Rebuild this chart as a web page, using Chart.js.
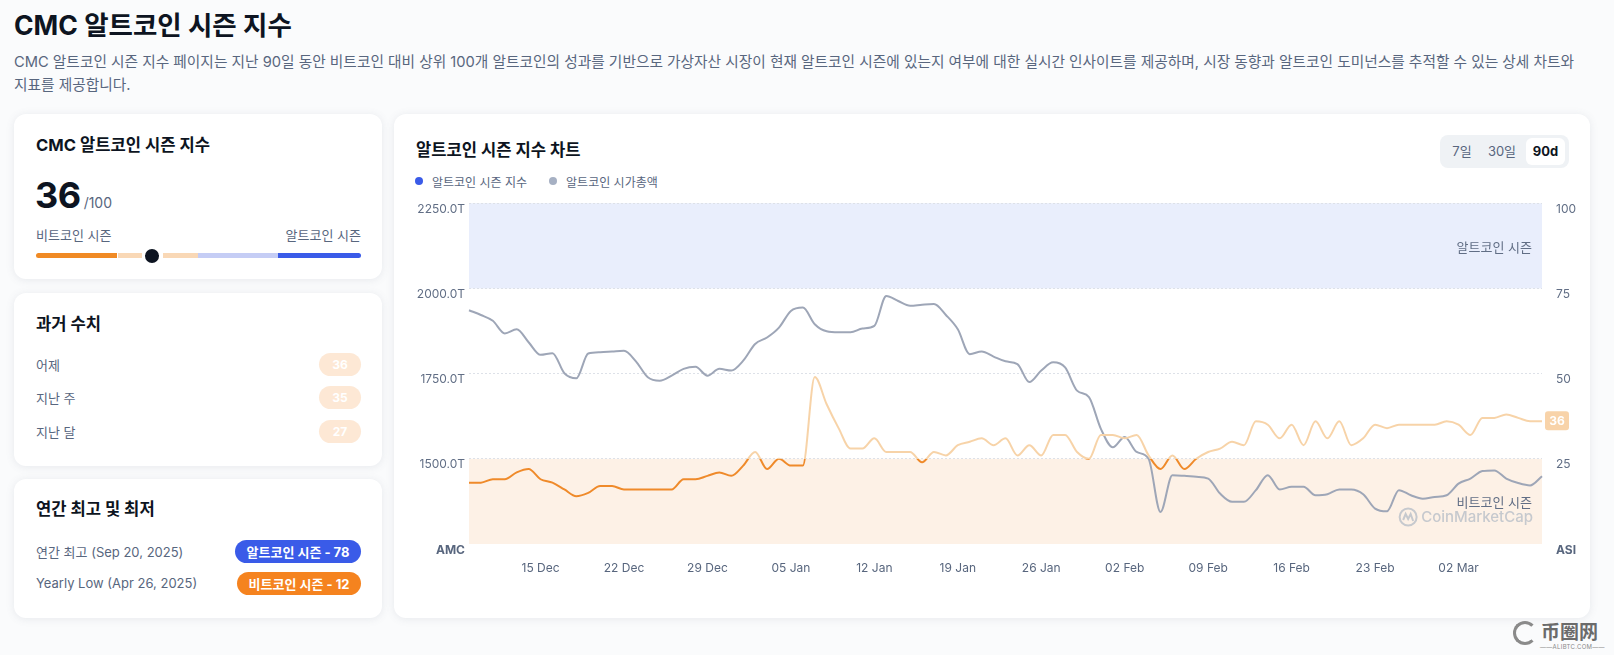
<!DOCTYPE html>
<html lang="ko">
<head>
<meta charset="utf-8">
<title>CMC 알트코인 시즌 지수</title>
<script src="https://cdn.jsdelivr.net/npm/chart.js@4.4.1/dist/chart.umd.min.js"></script>
<style>
  * { box-sizing: border-box; }
  body {
    margin: 0; width: 1614px; height: 655px; overflow: hidden; position: relative;
    background: #fafbfc; color: #0d1421;
    font-family: Inter, "Noto Sans CJK KR", sans-serif;
  }
  h1 { position: absolute; left: 14px; top: 9px; margin: 0; font-size: 26.5px; line-height: 32px; font-weight: 700; }
  .desc { position: absolute; left: 14px; top: 51px; font-size: 14.7px; line-height: 23px; color: #58667e; white-space: nowrap; }
  .card { position: absolute; background: #fff; border-radius: 12px; box-shadow: 0 1px 8px rgba(88, 102, 126, 0.12); }
  .card .t { position: absolute; left: 22px; font-size: 16.6px; line-height: 22px; font-weight: 700; }
  .row { position: absolute; left: 22px; right: 21px; height: 24px; display: flex; justify-content: space-between; align-items: center; font-size: 13px; color: #58667e; }
  .pill { height: 23px; border-radius: 12px; color: #fff; font-weight: 700; font-size: 13px; display: flex; align-items: center; justify-content: center; }
  .soft { width: 42px; background: #fde8d5; font-size: 12px; }
  .bar { position: absolute; top: 139px; height: 5px; }
  .legend { position: absolute; top: 58px; left: 21px; font-size: 12px; color: #58667e; display: flex; align-items: center; height: 18px; }
  .legend i { display: inline-block; width: 8px; height: 8px; border-radius: 50%; margin-right: 9px; }
  .seg { position: absolute; left: 1046px; top: 21px; width: 129px; height: 33px; background: #eff2f5; border-radius: 8px; font-size: 13px; color: #58667e; }
  .seg span { position: absolute; top: 3px; height: 27px; line-height: 27px; text-align: center; }
  #wrap { position: absolute; left: 400px; top: 190px; width: 1185px; height: 392px; }
</style>
</head>
<body>
<h1>CMC 알트코인 시즌 지수</h1>
<div class="desc">CMC 알트코인 시즌 지수 페이지는 지난 90일 동안 비트코인 대비 상위 100개 알트코인의 성과를 기반으로 가상자산 시장이 현재 알트코인 시즌에 있는지 여부에 대한 실시간 인사이트를 제공하며, 시장 동향과 알트코인 도미넌스를 추적할 수 있는 상세 차트와<br>지표를 제공합니다.</div>

<div class="card" style="left:14px;top:114px;width:368px;height:165px;">
  <div class="t" style="top:20px;">CMC 알트코인 시즌 지수</div>
  <div style="position:absolute;left:21px;top:61px;line-height:40px;white-space:nowrap;">
    <span style="font-size:36px;font-weight:700;letter-spacing:-0.5px;">36</span><span style="font-size:14px;color:#58667e;margin-left:3px;">/100</span>
  </div>
  <div class="row" style="top:108px;"><span>비트코인 시즌</span><span>알트코인 시즌</span></div>
  <div class="bar" style="left:22px;width:81px;background:#f08a24;border-radius:3px 0 0 3px;"></div>
  <div class="bar" style="left:104px;width:24px;background:#f9d8b6;"></div>
  <div class="bar" style="left:149px;width:35px;background:#f9d8b6;"></div>
  <div class="bar" style="left:184px;width:80px;background:#c5cdf5;"></div>
  <div class="bar" style="left:264px;width:83px;background:#3a5be8;border-radius:0 3px 3px 0;"></div>
  <div style="position:absolute;left:131px;top:135px;width:14px;height:14px;border-radius:50%;background:#0d1421;"></div>
</div>

<div class="card" style="left:14px;top:293px;width:368px;height:173px;">
  <div class="t" style="top:20px;">과거 수치</div>
  <div class="row" style="top:59px;"><span>어제</span><span class="pill soft">36</span></div>
  <div class="row" style="top:92px;"><span>지난 주</span><span class="pill soft">35</span></div>
  <div class="row" style="top:126px;"><span>지난 달</span><span class="pill soft">27</span></div>
</div>

<div class="card" style="left:14px;top:479px;width:368px;height:139px;">
  <div class="t" style="top:19px;">연간 최고 및 최저</div>
  <div class="row" style="top:60px;"><span>연간 최고 (Sep 20, 2025)</span><span class="pill" style="width:126px;background:#3a5be8;">알트코인 시즌 - 78</span></div>
  <div class="row" style="top:92px;"><span>Yearly Low (Apr 26, 2025)</span><span class="pill" style="width:124px;background:#f5831f;">비트코인 시즌 - 12</span></div>
</div>

<div class="card" style="left:394px;top:114px;width:1196px;height:504px;">
  <div class="t" style="top:25px;">알트코인 시즌 지수 차트</div>
  <div class="legend">
    <i style="background:#3a5be8;"></i><span>알트코인 시즌 지수</span>
    <i style="background:#a6b0c3;margin-left:22px;"></i><span>알트코인 시가총액</span>
  </div>
  <div class="seg">
    <span style="left:4px;width:36px;">7일</span>
    <span style="left:42px;width:40px;">30일</span>
    <span style="left:86px;width:39px;background:#fff;border-radius:6px;color:#0d1421;font-weight:700;">90d</span>
  </div>
</div>

<div id="wrap"><canvas id="altChart" width="1185" height="392"></canvas></div>

<div style="position:absolute;left:1513px;top:621px;width:24px;height:24px;border-radius:50%;border:3px solid #8a8a8a;border-right-color:transparent;"></div>
<div style="position:absolute;left:1541px;top:617px;font-family:'Noto Sans CJK SC';font-size:19px;font-weight:700;color:#6b6b6b;">币圈网</div>
<div style="position:absolute;left:1540px;top:643px;font-size:6px;color:#8a8a8a;letter-spacing:0.3px;">——ALIBTC.COM——</div>

<script>
// x tick labels shown on the axis
const tickLabels = ['15 Dec', '22 Dec', '29 Dec', '05 Jan', '12 Jan', '19 Jan', '26 Jan',
  '02 Feb', '09 Feb', '16 Feb', '23 Feb', '02 Mar'];

// altcoin market cap (T), one value per day from 09 Dec to 09 Mar
const altMarketCap = [
  1936, 1922, 1905, 1868, 1880, 1842, 1805, 1810, 1751, 1736,
  1809, 1813, 1815, 1817, 1786, 1739, 1729, 1744, 1764, 1770,
  1744, 1764, 1759, 1788, 1837, 1856, 1885, 1934, 1944, 1895,
  1874, 1871, 1871, 1882, 1890, 1978, 1963, 1949, 1952, 1954,
  1922, 1880, 1807, 1815, 1800, 1786, 1778, 1725, 1759, 1783,
  1768, 1700, 1681, 1588, 1534, 1564, 1520, 1500, 1344, 1452,
  1450, 1447, 1442, 1398, 1374, 1374, 1408, 1452, 1410, 1418,
  1418, 1393, 1396, 1410, 1410, 1396, 1354, 1346, 1408, 1393,
  1383, 1388, 1393, 1427, 1442, 1464, 1466, 1442, 1429, 1422,
  1449
];

// altcoin season index (0-100), same days
const seasonIndex = [
  18, 18, 19, 19, 21, 22, 19, 18, 16, 14,
  15, 17, 17, 16, 16, 16, 16, 16, 19, 19,
  20, 21, 20, 23, 27, 22, 25, 23, 23, 49,
  41, 34, 28, 28, 31, 27, 27, 27, 24, 27,
  26, 29, 30, 31, 29, 31, 26, 29, 26, 32,
  32, 27, 25, 32, 32, 31, 32, 26, 22, 26,
  22, 25, 27, 28, 30, 29, 36, 35, 31, 35,
  29, 36, 31, 36, 29, 31, 35, 34, 35, 35,
  35, 35, 36, 35, 32, 37, 37, 38, 37, 36,
  36
];

const capTicks = [1250, 1500, 1750, 2000, 2250];
const indexTicks = [0, 25, 50, 75, 100];

// daily category labels
const monthNames = ['Jan', 'Feb', 'Mar', 'Apr', 'May', 'Jun', 'Jul', 'Aug', 'Sep', 'Oct', 'Nov', 'Dec'];
const days = [];
for (let i = 0; i < seasonIndex.length; i++) {
  const d = new Date(2025, 11, 9 + i);
  days.push(String(d.getDate()).padStart(2, '0') + ' ' + monthNames[d.getMonth()]);
}

const ORANGE = '#ef8a2a';
const PEACH = '#f7d3a8';

// orange below 25, light peach above
function indexLineColor(context) {
  const { ctx, chartArea, scales } = context.chart;
  if (!chartArea) return ORANGE;
  const y25 = scales.yIndex.getPixelForValue(25);
  const stop = (y25 - chartArea.top) / (chartArea.bottom - chartArea.top);
  const g = ctx.createLinearGradient(0, chartArea.top, 0, chartArea.bottom);
  g.addColorStop(0, PEACH);
  g.addColorStop(stop, PEACH);
  g.addColorStop(stop, ORANGE);
  g.addColorStop(1, ORANGE);
  return g;
}

const seasonBands = {
  id: 'seasonBands',
  beforeDraw(chart) {
    const { ctx, chartArea: a, scales } = chart;
    const r = scales.yIndex;
    ctx.save();
    ctx.fillStyle = '#e9eefc';
    ctx.fillRect(a.left, r.getPixelForValue(100), a.width, r.getPixelForValue(75) - r.getPixelForValue(100));
    ctx.fillStyle = '#fdf1e6';
    ctx.fillRect(a.left, r.getPixelForValue(25), a.width, r.getPixelForValue(0) - r.getPixelForValue(25));
    ctx.restore();
  },
  beforeDatasetsDraw(chart) {
    const { ctx, chartArea: a, scales } = chart;
    const r = scales.yIndex;
    ctx.save();
    ctx.font = '13px Inter, "Noto Sans CJK KR"';
    ctx.fillStyle = '#616e85';
    ctx.textAlign = 'right';
    ctx.textBaseline = 'middle';
    ctx.fillText('알트코인 시즌', a.right - 10, (r.getPixelForValue(100) + r.getPixelForValue(75)) / 2 + 2);
    ctx.fillText('비트코인 시즌', a.right - 10, a.bottom - 41);

    // CoinMarketCap watermark
    const wy = a.bottom - 27;
    ctx.font = '500 15px Inter';
    ctx.fillStyle = '#c6c9ce';
    ctx.fillText('CoinMarketCap', a.right - 9, wy);
    const lx = a.right - 9 - ctx.measureText('CoinMarketCap').width - 13;
    ctx.strokeStyle = '#c6c9ce';
    ctx.lineWidth = 2;
    ctx.beginPath();
    ctx.arc(lx, wy, 8.5, 0, Math.PI * 2);
    ctx.stroke();
    ctx.beginPath();
    ctx.moveTo(lx - 5, wy + 3);
    ctx.lineTo(lx - 2.5, wy - 3);
    ctx.lineTo(lx, wy + 2);
    ctx.lineTo(lx + 2.5, wy - 3);
    ctx.lineTo(lx + 5, wy + 4);
    ctx.stroke();
    ctx.restore();
  },
  afterDraw(chart) {
    // current value badge on the right axis
    const { ctx, chartArea: a, scales } = chart;
    const last = seasonIndex[seasonIndex.length - 1];
    const y = scales.yIndex.getPixelForValue(last);
    ctx.save();
    ctx.fillStyle = '#f8d3a9';
    ctx.beginPath();
    ctx.roundRect(a.right + 3, y - 10, 24, 19, 3);
    ctx.fill();
    ctx.fillStyle = '#fff';
    ctx.font = 'bold 12px Inter';
    ctx.textAlign = 'center';
    ctx.textBaseline = 'middle';
    ctx.fillText(String(last), a.right + 15, y);
    ctx.restore();
  }
};

const tickFont = (isEnd) => isEnd ? { family: 'Inter', size: 12, weight: 'bold' } : { family: 'Inter', size: 12 };

new Chart(document.getElementById('altChart').getContext('2d'), {
  type: 'line',
  data: {
    labels: days,
    datasets: [
      {
        label: '알트코인 시즌 지수',
        data: seasonIndex,
        yAxisID: 'yIndex',
        borderColor: indexLineColor,
        borderWidth: 2,
        pointRadius: 0,
        cubicInterpolationMode: 'monotone',
        fill: false,
      },
      {
        label: '알트코인 시가총액',
        data: altMarketCap,
        yAxisID: 'yCap',
        borderColor: '#9ea6b7',
        borderWidth: 2,
        pointRadius: 0,
        cubicInterpolationMode: 'monotone',
        fill: false,
      },
    ],
  },
  options: {
    responsive: false,
    animation: false,
    layout: { padding: { top: 12 } },
    plugins: { legend: { display: false }, tooltip: { enabled: false } },
    scales: {
      x: {
        offset: false,
        grid: { display: false },
        border: { display: false },
        ticks: {
          autoSkip: false,
          maxRotation: 0,
          padding: 9,
          color: '#58667e',
          font: { family: 'Inter', size: 12 },
          callback(value) {
            const l = this.getLabelForValue(value);
            return tickLabels.includes(l) ? l : '';
          },
        },
        afterFit(s) { s.height = 38; },
      },
      yCap: {
        position: 'left',
        min: capTicks[0],
        max: capTicks[capTicks.length - 1],
        afterBuildTicks(s) { s.ticks = capTicks.map(v => ({ value: v })); },
        grid: {
          drawTicks: false,
          color: ctx => ctx.tick && ctx.tick.value === capTicks[0] ? 'rgba(0,0,0,0)' : '#dde1e8',
        },
        border: { display: false, dash: [2, 2] },
        ticks: {
          padding: 4,
          labelOffset: 6,
          color: ctx => ctx.tick && ctx.tick.value === capTicks[0] ? '#58667e' : '#616e85',
          font: ctx => tickFont(ctx.tick && ctx.tick.value === capTicks[0]),
          callback: v => v === capTicks[0] ? 'AMC' : v.toFixed(1) + 'T',
        },
        afterFit(s) { s.width = 69; },
      },
      yIndex: {
        position: 'right',
        min: 0,
        max: 100,
        afterBuildTicks(s) { s.ticks = indexTicks.map(v => ({ value: v })); },
        grid: { display: false },
        border: { display: false },
        ticks: {
          padding: 6,
          labelOffset: 6,
          color: ctx => ctx.tick && ctx.tick.value === 0 ? '#58667e' : '#616e85',
          font: ctx => tickFont(ctx.tick && ctx.tick.value === 0),
          callback: v => v === 0 ? 'ASI' : String(v),
        },
        afterFit(s) { s.width = 43; },
      },
    },
  },
  plugins: [seasonBands],
});
</script>
</body>
</html>
